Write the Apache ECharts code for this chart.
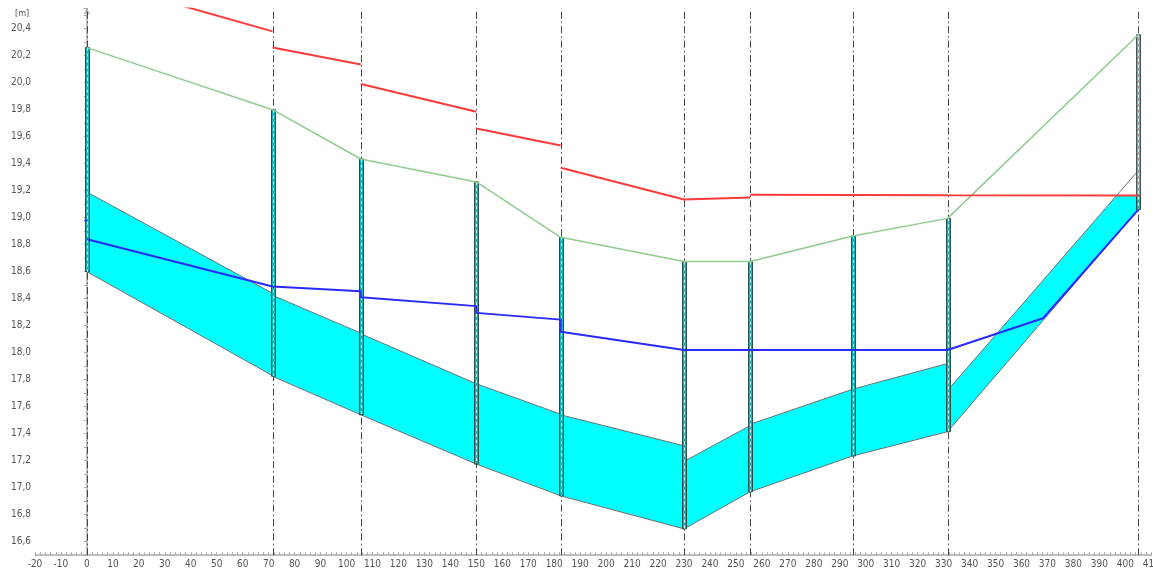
<!DOCTYPE html>
<html>
<head>
<meta charset="utf-8">
<script src="https://cdn.jsdelivr.net/npm/echarts@6/dist/echarts.min.js"></script>
<style>
  html, body { margin: 0; padding: 0; background: #fff; }
  #chart { width: 1153px; height: 571px; }
</style>
</head>
<body>
<div id="chart"></div>
<script>
// Cross-section stations along the reach [m]
const stations = [0, 71.5, 105.5, 150, 182.5, 230, 255.5, 295, 331.5, 405];
// Bank top elevation at each station
const bankTop = [20.26, 19.80, 19.435, 19.265, 18.855, 18.675, 18.675, 18.865, 18.995, 20.355];

// Sediment layer between consecutive stations: top/bottom at segment start and end
const layerTopStart = [19.19, 18.425, 18.14, 17.77, 17.54, 17.195, 17.47, 17.73, 17.72];
const layerTopEnd   = [18.44, 18.145, 17.77, 17.545, 17.31, 17.46, 17.73, 17.92, 19.35];
const layerBotStart = [18.60, 17.825, 17.54, 17.175, 16.94, 16.695, 16.97, 17.235, 17.415];
const layerBotEnd   = [17.83, 17.54, 17.175, 16.94, 16.695, 16.97, 17.235, 17.415, 19.06];

// Water surface, one polyline per reach
const waterSegments = [
  [[0, 20.77], [71.5, 20.38]],
  [[71.5, 20.26], [105.5, 20.135]],
  [[105.5, 19.99], [150, 19.785]],
  [[150, 19.66], [182.5, 19.535]],
  [[182.5, 19.37], [230, 19.135], [255.5, 19.15]],
  [[255.5, 19.17], [295, 19.168], [331.5, 19.166], [405, 19.165]]
];

// Lower line (blue)
const lowerLine = [
  [0, 18.84], [71.5, 18.49], [105.5, 18.455], [105.5, 18.41], [150, 18.345],
  [150, 18.295], [182.5, 18.245], [182.5, 18.155], [230, 18.02], [255.5, 18.02],
  [295, 18.02], [331.5, 18.02], [368.3, 18.255], [405, 19.06]
];
// Short blue mark on the first station
const lowerMark = [[-1, 18.98], [0, 18.98]];

const X_MIN = -20, X_MAX = 410, Y_MIN = 16.5, Y_MAX = 20.55;
const FONT = "'Liberation Sans Narrow', 'DejaVu Sans Condensed', 'Liberation Sans', sans-serif";

function waterAt(x) {
  let best = Infinity;
  waterSegments.forEach(seg => {
    for (let k = 0; k < seg.length - 1; k++) {
      const a = seg[k], b = seg[k + 1];
      if (x >= a[0] && x <= b[0] && b[0] > a[0]) {
        const t = (x - a[0]) / (b[0] - a[0]);
        best = Math.min(best, a[1] + t * (b[1] - a[1]));
      }
    }
  });
  return best;
}

// Clip a polygon (data coords) to y <= ceil
function clipBelow(poly, ceil) {
  const out = [];
  for (let i = 0; i < poly.length; i++) {
    const p = poly[i], q = poly[(i + 1) % poly.length];
    const pin = p[1] <= ceil, qin = q[1] <= ceil;
    if (pin) out.push(p);
    if (pin !== qin) {
      const t = (ceil - p[1]) / (q[1] - p[1]);
      out.push([p[0] + t * (q[0] - p[0]), ceil]);
    }
  }
  return out;
}

const segIdx = layerTopStart.map((_, i) => [i]);
const stIdx = stations.map((_, i) => [i]);

const series = [];

// Station lines (dash-dot)
series.push({
  type: 'custom', z: 1, silent: true,
  data: stIdx,
  renderItem: (params, api) => {
    const i = api.value(0);
    const p0 = api.coord([stations[i], Y_MIN]);
    const p1 = api.coord([stations[i], Y_MAX]);
    const x = Math.round(p0[0]) + 0.5;
    return {
      type: 'line',
      shape: { x1: x, y1: p0[1], x2: x, y2: p1[1] },
      style: { stroke: '#444', lineWidth: 1, lineDash: [7, 3, 1.5, 3] }
    };
  }
});

// Sediment band
series.push({
  type: 'custom', z: 2, silent: true,
  data: segIdx,
  renderItem: (params, api) => {
    const i = api.value(0);
    const x0 = stations[i], x1 = stations[i + 1];
    const ceil = Math.min(waterAt(x0 + 0.01), waterAt(x1 - 0.01));
    const poly = clipBelow([
      [x0, layerTopStart[i]], [x1, layerTopEnd[i]],
      [x1, layerBotEnd[i]], [x0, layerBotStart[i]]
    ], ceil).map(p => api.coord(p));
    const top = [api.coord([x0, layerTopStart[i]]), api.coord([x1, layerTopEnd[i]])];
    const bot = [api.coord([x0, layerBotStart[i]]), api.coord([x1, layerBotEnd[i]])];
    return {
      type: 'group',
      children: [
        { type: 'polygon', shape: { points: poly }, style: { fill: '#00ffff', stroke: null } },
        { type: 'polyline', shape: { points: top }, style: { stroke: '#707070', lineWidth: 1, fill: null } },
        { type: 'polyline', shape: { points: bot }, style: { stroke: '#707070', lineWidth: 1, fill: null } }
      ]
    };
  }
});

// Station bars from layer bottom to bank top
series.push({
  type: 'custom', z: 3, silent: true,
  data: stIdx,
  renderItem: (params, api) => {
    const i = api.value(0);
    const x = stations[i];
    const bots = [];
    if (i > 0) bots.push(layerBotEnd[i - 1]);
    if (i < layerBotStart.length) bots.push(layerBotStart[i]);
    const bottom = Math.min.apply(null, bots);
    const top = bankTop[i];
    const water = waterAt(x);
    const wetTop = Math.min(top, water);
    const pb = api.coord([x, bottom]);
    const pw = api.coord([x, wetTop]);
    const pt = api.coord([x, top]);
    const cx = Math.round(pb[0]) + 0.5;
    const children = [
      { type: 'rect', shape: { x: cx - 2, y: pw[1], width: 4, height: pb[1] - pw[1] },
        style: { fill: '#17b3b3', stroke: '#2a4f4f', lineWidth: 1 } }
    ];
    if (top > water) {
      children.push({ type: 'rect', shape: { x: cx - 2, y: pt[1], width: 4, height: pw[1] - pt[1] },
        style: { fill: '#9a9a9a', stroke: '#505050', lineWidth: 1 } });
    }
    children.push({ type: 'line', shape: { x1: cx, y1: pt[1], x2: cx, y2: pb[1] },
      style: { stroke: '#bff', lineWidth: 1, lineDash: [3, 3] } });
    return { type: 'group', children };
  }
});

// Bank top (green)
series.push({
  type: 'line', z: 4, silent: true, symbol: 'none',
  data: stations.map((x, i) => [x, bankTop[i]]),
  lineStyle: { color: '#8fcc8f', width: 1.5 }
});

// Lower line (blue)
series.push({
  type: 'line', z: 5, silent: true, symbol: 'none',
  data: lowerLine,
  lineStyle: { color: '#2a2aff', width: 2 }
});
series.push({
  type: 'line', z: 5, silent: true, symbol: 'none',
  data: lowerMark,
  lineStyle: { color: '#2a2aff', width: 1.5 }
});

// Water surface (red)
waterSegments.forEach(seg => {
  series.push({
    type: 'line', z: 6, silent: true, symbol: 'none',
    data: seg,
    lineStyle: { color: '#ff3b3b', width: 2 }
  });
});

const chart = echarts.init(document.getElementById('chart'), null, { renderer: 'canvas' });
chart.setOption({
  animation: false,
  backgroundColor: '#ffffff',
  grid: { left: 35, right: 1.7, top: 8.45, bottom: 15.8, containLabel: false, outerBoundsMode: 'none' },
  graphic: [{
    type: 'text', left: 15, top: 9,
    style: { text: '[m]', font: '9px ' + FONT, fill: '#555' }
  }],
  xAxis: {
    type: 'value', min: X_MIN, max: X_MAX, interval: 2,
    axisLine: { lineStyle: { color: '#aaaaaa', width: 1.5 } },
    axisTick: { inside: true, length: 3, lineStyle: { color: '#aaaaaa' } },
    splitLine: { show: false },
    axisLabel: {
      margin: 4, fontSize: 10, color: '#555', fontFamily: FONT,
      formatter: v => (Math.abs(v % 10) < 1e-6 ? String(Math.round(v)) : '')
    }
  },
  yAxis: {
    type: 'value', min: Y_MIN, max: Y_MAX, interval: 0.1,
    axisLine: { show: true, symbol: ['none', 'arrow'], symbolSize: [5, 6], lineStyle: { color: '#aaaaaa', width: 1.5 } },
    axisTick: { show: true, length: 3, lineStyle: { color: '#aaaaaa' } },
    splitLine: { show: false },
    axisLabel: {
      margin: 4, fontSize: 10, color: '#555', fontFamily: FONT,
      formatter: v => {
        const r = v * 5;
        if (Math.abs(r - Math.round(r)) > 1e-6) return '';
        return v.toFixed(1).replace('.', ',');
      }
    }
  },
  series
});
</script>
</body>
</html>
